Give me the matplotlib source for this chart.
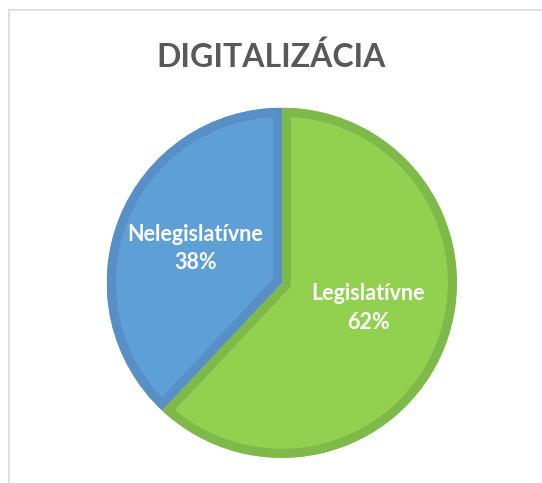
import matplotlib
matplotlib.use("Agg")
from matplotlib import pyplot as plt
from matplotlib.patches import Rectangle, Wedge

categories = ["Legislatívne", "Nelegislatívne"]
shares = [62, 38]
fill_colors = ["#92d050", "#5e9fd7"]
edge_colors = ["#7eb94a", "#588fc6"]

plt.rcParams['font.family'] = ['Lato', 'DejaVu Sans']

fig = plt.figure(figsize=(5.42, 4.83), dpi=100)
fig.patch.set_facecolor('white')

# light frame around the chart area (left and top visible)
fig.add_artist(Rectangle((9 / 542, -0.1), 2, 1 - 10 / 483 + 0.1, transform=fig.transFigure,
                         fill=False, edgecolor='#d9d9d9', linewidth=1.2))

fig.text(0.5, 1 - 57 / 483, "DIGITALIZÁCIA", ha='center', va='center',
         fontsize=23, fontweight='bold', color='#595959')

ax = fig.add_axes([0.197, 0.052, 0.646, 0.725])
labels_iter = iter(categories)
wedges, texts, autotexts = ax.pie(
    shares,
    colors=fill_colors,
    startangle=90,
    counterclock=False,
    radius=1,
    autopct=lambda p: f"{next(labels_iter)}\n{p:.0f}%",
    pctdistance=0.53,
    wedgeprops=dict(linewidth=0),
    textprops=dict(color='white', fontsize=15.5, fontweight='bold', linespacing=1.45),
)
# border drawn inside each slice: a stroked copy clipped to the slice itself
for w, ec in zip(wedges, edge_colors):
    border = Wedge(w.center, w.r, w.theta1, w.theta2, fill=False,
                   edgecolor=ec, linewidth=13, zorder=w.get_zorder() + 0.1)
    ax.add_patch(border)
    border.set_clip_path(w)
for t in autotexts:
    t.set_zorder(5)
# Excel puts the green label a bit higher
x, y = autotexts[0].get_position()
autotexts[0].set_position((x, y + 0.05))

ax.set_xlim(-1, 1)
ax.set_ylim(-1, 1)
ax.set_aspect('equal')
ax.axis('off')

fig.savefig("out.png", dpi=100)
